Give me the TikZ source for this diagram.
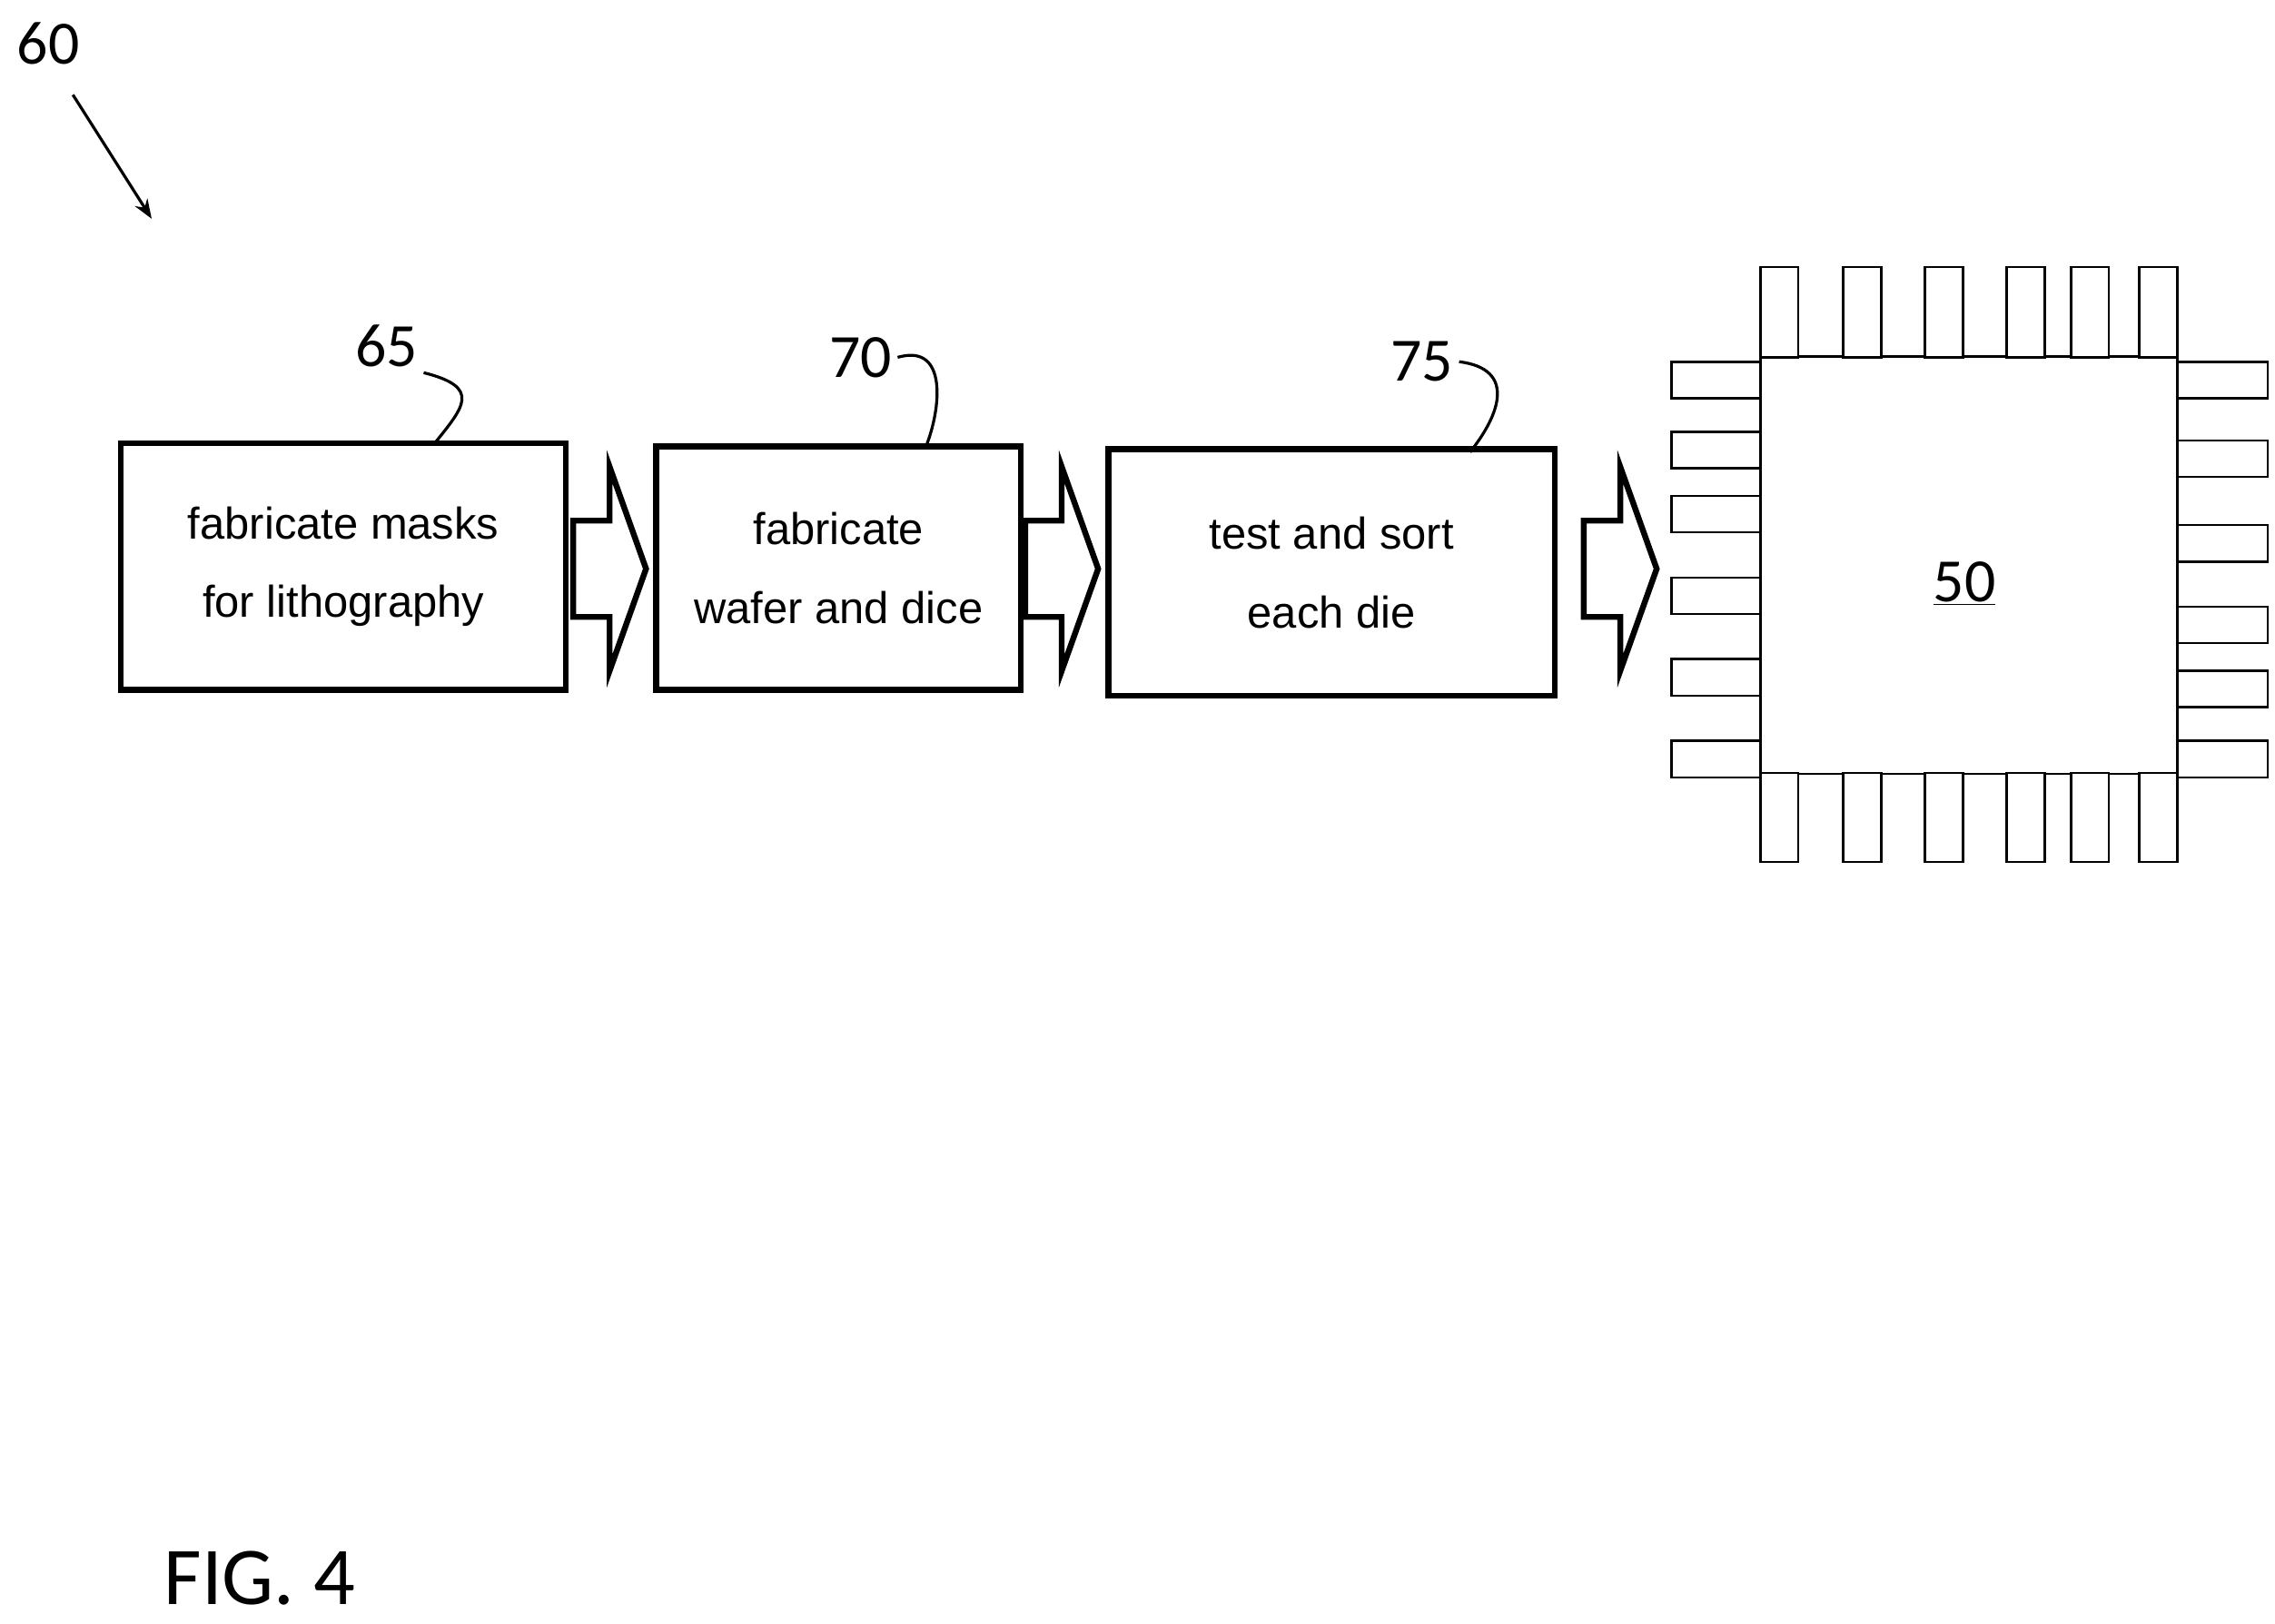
\documentclass[tikz,border=0pt]{standalone}
\usepackage{fontspec}
\setmainfont{Liberation Sans}
\newfontfamily\labelfont{Carlito}
\usetikzlibrary{positioning}
\usetikzlibrary{calc}
\usetikzlibrary{arrows.meta}
\tikzset{
    % Process steps
    process step/.style={draw, line width=1.2mm, rectangle, align=center,
        font=\fontsize{26}{46}\selectfont, inner sep=0},
    % Reference numerals
    numeral/.style={font=\labelfont\fontsize{36}{36}\selectfont},
    leader/.style={line width=0.6mm},
    pin/.style={draw, line width=0.5mm, fill=white},
    block arrow/.style={draw, line width=1.2mm, line join=miter},
}
\begin{document}
\begin{tikzpicture}[x=0.3mm, y=-0.3mm]
    \useasboundingbox (0,0) rectangle (1560,1113);

    % overall reference
    \node [numeral] (ref all) at (33,30) {60};
    \coordinate (ref tip) at (104,150);
    \draw [leader, -{Stealth[length=4mm]}] (50,65) -- (ref tip);

    % the three steps
    \node [process step, minimum width=305*0.3mm, minimum height=169*0.3mm]
        (masks) at (235.5,388.5) {fabricate masks\\for lithography};
    \node [process step, minimum width=250*0.3mm, minimum height=167*0.3mm]
        (wafer) at (575,389.5) {fabricate\\wafer and dice};
    \node [process step, minimum width=306*0.3mm, minimum height=169*0.3mm]
        (test) at (913,392.5) {test and sort\\each die};

    \node [numeral] (ref masks) at (265,237) {65};
    \node [numeral] (ref wafer) at (590,245) {70};
    \node [numeral] (ref test) at (975,248) {75};
    \draw [leader] (ref masks.south east) .. controls +(40,10) and +(20,-25) .. (298,304);
    \draw [leader] (ref wafer.east) .. controls +(35,-10) and +(10,-25) .. (635,306);
    \draw [leader] (ref test.east) .. controls +(40,5) and +(20,-25) .. (1008,310);

    % block arrows between steps
    \foreach \x in {393, 703, 1086} {
        \draw [block arrow] (\x,357) -- ++(25,0) -- ++(0,-37) -- ++(25,70)
            -- ++(-25,70) -- ++(0,-37) -- ++(-25,0) -- cycle;
    }

    % the packaged part
    \node [draw, line width=0.5mm, minimum size=286*0.3mm, inner sep=0]
        (chip) at (1350,387.5) {};
    \node [numeral] (ref chip) at (1347,400) {\underline{50}};
    \foreach \x in {1207, 1264, 1320, 1376, 1420, 1467} {
        \draw [pin] (\x,183) rectangle ++(26,62);
        \draw [pin] (\x,530) rectangle ++(26,61);
    }
    \foreach \y in {248, 296, 340, 396, 452, 508} {
        \draw [pin] (1146,\y) rectangle ++(61,25);
    }
    \foreach \y in {248, 302, 360, 416, 460, 508} {
        \draw [pin] (1493,\y) rectangle ++(62,25);
    }

    \node [font=\labelfont\fontsize{48}{48}\selectfont] (caption) at (178,1082) {FIG. 4};
\end{tikzpicture}
\end{document}
